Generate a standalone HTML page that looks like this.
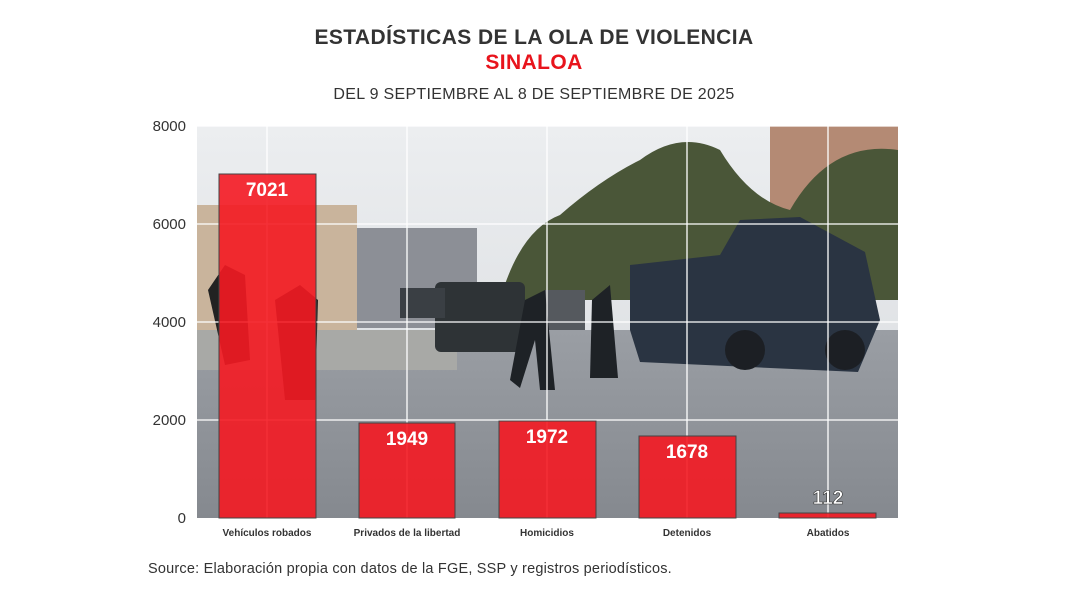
<!DOCTYPE html>
<html><head><meta charset="utf-8"><style>
body{margin:0;background:#fff;width:1068px;height:599px;overflow:hidden;font-family:"Liberation Sans",sans-serif}
</style></head><body>
<svg width="1068" height="599" xmlns="http://www.w3.org/2000/svg">
<defs>
<linearGradient id="sky" x1="0" y1="0" x2="0" y2="1"><stop offset="0" stop-color="#eceef0"/><stop offset="1" stop-color="#d6d9dd"/></linearGradient>
<linearGradient id="road" x1="0" y1="0" x2="0" y2="1"><stop offset="0" stop-color="#9a9ea4"/><stop offset="1" stop-color="#85898f"/></linearGradient>
</defs>
<text x="534" y="44" text-anchor="middle" font-size="21" font-weight="bold" fill="#333" letter-spacing="0.4">ESTADÍSTICAS DE LA OLA DE VIOLENCIA</text>
<text x="534" y="69" text-anchor="middle" font-size="21" font-weight="bold" fill="#e8141c" letter-spacing="0.4">SINALOA</text>
<text x="534" y="99" text-anchor="middle" font-size="16" fill="#333" letter-spacing="0.3">DEL 9 SEPTIEMBRE AL 8 DE SEPTIEMBRE DE 2025</text>
<rect x="197" y="126" width="701" height="392" fill="url(#sky)"/>
<rect x="197" y="205" width="160" height="135" fill="#c9b49c"/>
<rect x="357" y="228" width="120" height="100" fill="#8c8f96"/>
<rect x="770" y="126" width="128" height="160" fill="#b48a74"/>
<path d="M500 300 Q520 230 560 215 Q600 180 640 160 Q680 130 720 150 Q750 200 790 210 Q830 140 898 150 L898 300 Z" fill="#4a5638"/>
<rect x="197" y="330" width="701" height="188" fill="url(#road)"/>
<rect x="197" y="330" width="260" height="40" fill="#a8a9a6"/>
<rect x="435" y="282" width="90" height="70" rx="6" fill="#2e3336"/>
<rect x="400" y="288" width="45" height="30" fill="#3a3f44"/>
<rect x="545" y="290" width="40" height="40" fill="#55595e"/>
<path d="M630 265 L720 255 L740 220 L800 217 L865 252 L880 320 L858 372 L640 362 L630 330 Z" fill="#2a3442"/>
<circle cx="745" cy="350" r="20" fill="#1c1f24"/><circle cx="845" cy="350" r="20" fill="#1c1f24"/>
<path d="M510 380 L525 300 L545 290 L555 390 L540 390 L535 340 L520 388 Z" fill="#1e2226"/>
<path d="M590 378 L592 300 L610 285 L618 378 Z" fill="#1e2226"/>
<path d="M208 290 L225 265 L245 275 L250 360 L225 365 Z M275 300 L300 285 L318 300 L315 400 L285 400 Z" fill="#222"/>
<g stroke="#fff" stroke-width="1.3">
<line x1="197" y1="126" x2="898" y2="126"/><line x1="197" y1="224" x2="898" y2="224"/>
<line x1="197" y1="322" x2="898" y2="322"/><line x1="197" y1="420" x2="898" y2="420"/>
<line x1="267" y1="126" x2="267" y2="518"/><line x1="407" y1="126" x2="407" y2="518"/>
<line x1="547" y1="126" x2="547" y2="518"/><line x1="687" y1="126" x2="687" y2="518"/>
<line x1="828" y1="126" x2="828" y2="518"/>
</g>
<g fill="#f41a22" fill-opacity="0.9" stroke="#444" stroke-width="1">
<rect x="219" y="174" width="97" height="344"/>
<rect x="359" y="423" width="96" height="95"/>
<rect x="499" y="421" width="97" height="97"/>
<rect x="639" y="436" width="97" height="82"/>
<rect x="779" y="513" width="97" height="5"/>
</g>
<g font-size="19" font-weight="bold" fill="#fff" text-anchor="middle">
<text x="267" y="196">7021</text><text x="407" y="445">1949</text>
<text x="547" y="443">1972</text><text x="687" y="458">1678</text>
<text x="828" y="504" stroke="#333" stroke-width="0.6">112</text>
</g>
<g font-size="15" fill="#333" text-anchor="end">
<text x="186" y="131">8000</text><text x="186" y="229">6000</text>
<text x="186" y="327">4000</text><text x="186" y="425">2000</text><text x="186" y="523">0</text>
</g>
<g font-size="10" font-weight="bold" fill="#333" text-anchor="middle">
<text x="267" y="536">Vehículos robados</text><text x="407" y="536">Privados de la libertad</text>
<text x="547" y="536">Homicidios</text><text x="687" y="536">Detenidos</text><text x="828" y="536">Abatidos</text>
</g>
<text x="148" y="573" font-size="14.5" fill="#333" letter-spacing="0.2">Source: Elaboración propia con datos de la FGE, SSP y registros periodísticos.</text>
</svg>
</body></html>
